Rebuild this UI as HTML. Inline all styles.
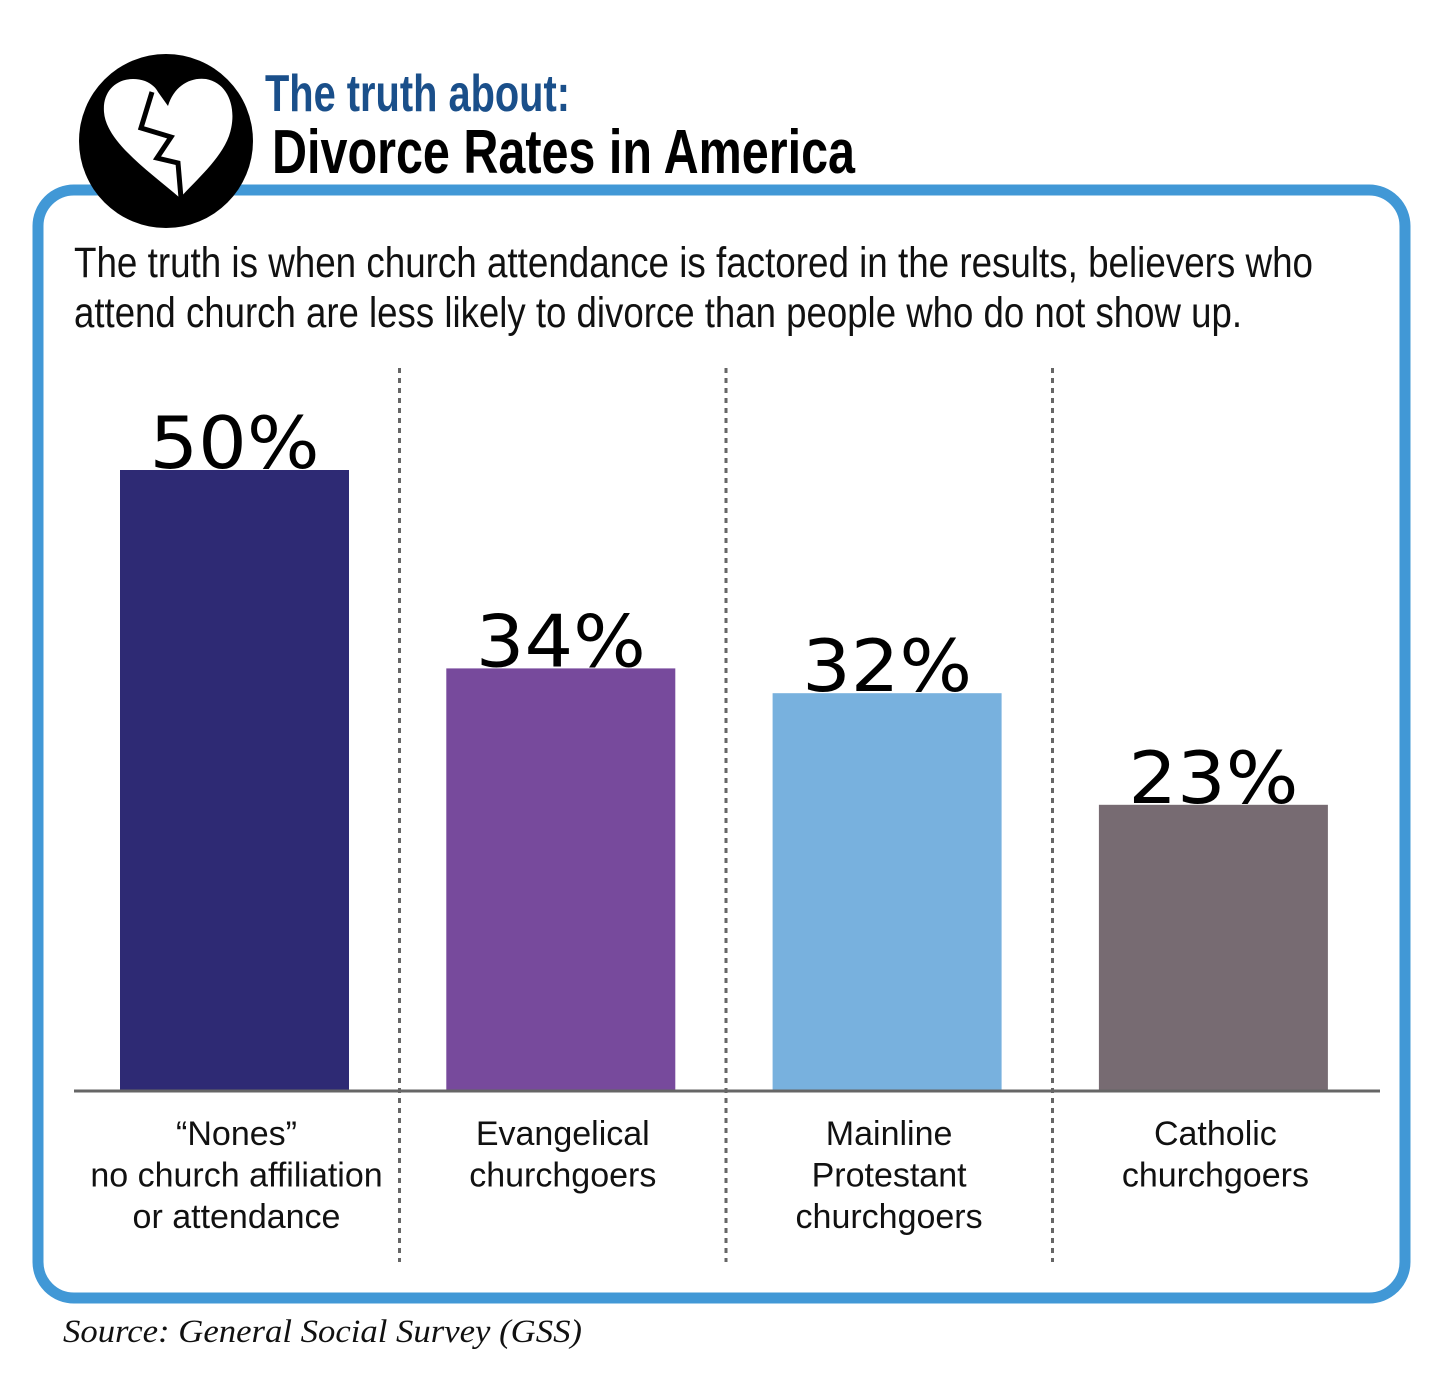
<!DOCTYPE html>
<html><head><meta charset="utf-8"><style>
html,body{margin:0;padding:0;background:#fff;}
svg{display:block;}
</style></head><body>
<svg id="chart" width="1456" height="1381" viewBox="0 0 1456 1381" xmlns="http://www.w3.org/2000/svg">
  <rect x="38" y="190" width="1367" height="1108" rx="36" fill="#fff" stroke="#4198d6" stroke-width="11"/>
  <g>
    <circle cx="166" cy="141" r="87" fill="#000"/>
    <path d="M180,198 C150,172 106,142 104,112 C102,86 124,74 145,81 C152,84 156,88 158,92 L168,106 C174,86 190,77 206,79 C229,83 238,110 229,136 C220,160 196,180 180,198 Z" fill="#fff"/>
    <polyline points="152,92 141,128 171,137 157,158 178,163 181,198" fill="none" stroke="#000" stroke-width="5" stroke-linejoin="miter"/>
  </g>
  <text x="265" y="111" font-family="'Liberation Sans Narrow','Liberation Sans',sans-serif" font-weight="bold" font-size="52" fill="#1a4f8a" textLength="305" lengthAdjust="spacingAndGlyphs">The truth about:</text>
  <text x="272" y="173" font-family="'Liberation Sans Narrow','Liberation Sans',sans-serif" font-weight="bold" font-size="62" fill="#000" textLength="583" lengthAdjust="spacingAndGlyphs">Divorce Rates in America</text>
  <g font-family="'Liberation Sans Narrow','Liberation Sans',sans-serif" font-size="43" fill="#111">
    <text x="74" y="277" textLength="1239" lengthAdjust="spacingAndGlyphs">The truth is when church attendance is factored in the results, believers who</text>
    <text x="74" y="327" textLength="1168" lengthAdjust="spacingAndGlyphs">attend church are less likely to divorce than people who do not show up.</text>
  </g>
  <g id="plot"></g>
  <text x="63" y="1342" font-family="'Liberation Serif',serif" font-style="italic" font-size="33" fill="#111" textLength="519" lengthAdjust="spacingAndGlyphs">Source: General Social Survey (GSS)</text>
</svg>
<script>
const categories = ['nones','evangelical','mainline','catholic'];
const values = [50, 34, 32, 23];
const valueLabels = ['50%', '34%', '32%', '23%'];
const labelLines = [['\u201cNones\u201d','no church affiliation','or attendance'],['Evangelical','churchgoers'],['Mainline','Protestant','churchgoers'],['Catholic','churchgoers']];
const colors = ['#2e2a74','#774a9c','#78b1de','#776b72'];

const NS='http://www.w3.org/2000/svg';
const plot=document.getElementById('plot');
const baseY=1090, pxPer=12.4;
const yScale=v=>baseY-v*pxPer;
const bandLeft=74, bandW=326.5, barW=229;
const xCenter=i=>234.5+326.3*i;
function mk(tag,attrs){const e=document.createElementNS(NS,tag);for(const k in attrs)e.setAttribute(k,attrs[k]);plot.appendChild(e);return e;}
for(let i=1;i<categories.length;i++){
  const x=bandLeft+bandW*i-1;
  const l=mk('line',{x1:x,x2:x,y1:368,y2:1262,stroke:'#666','stroke-width':3,'stroke-dasharray':'5 5'});
  
  
}
categories.forEach((c,i)=>{
  const cx=xCenter(i);
  const top=yScale(values[i]);
  const r=mk('rect',{x:cx-barW/2,y:top,width:barW,height:baseY-top,fill:colors[i]});
  
  
  const t=mk('text',{x:cx,y:top-2,'text-anchor':'middle','font-family':"'DejaVu Sans','Liberation Sans',sans-serif",'font-size':72,fill:'#000',textLength:170,lengthAdjust:'spacingAndGlyphs'});
  t.textContent=valueLabels[i];
  
  
  labelLines[i].forEach((ln,j)=>{
    const tt=mk('text',{x:cx+2,y:1145+j*41.5,'text-anchor':'middle','font-family':"'Liberation Sans Narrow','Liberation Sans',sans-serif",'font-size':34,fill:'#111'});
    tt.textContent=ln;
    
    
  });
});
const ax=mk('line',{x1:74,x2:1380,y1:baseY+1,y2:baseY+1,stroke:'#666','stroke-width':3});


</script>
</body></html>
